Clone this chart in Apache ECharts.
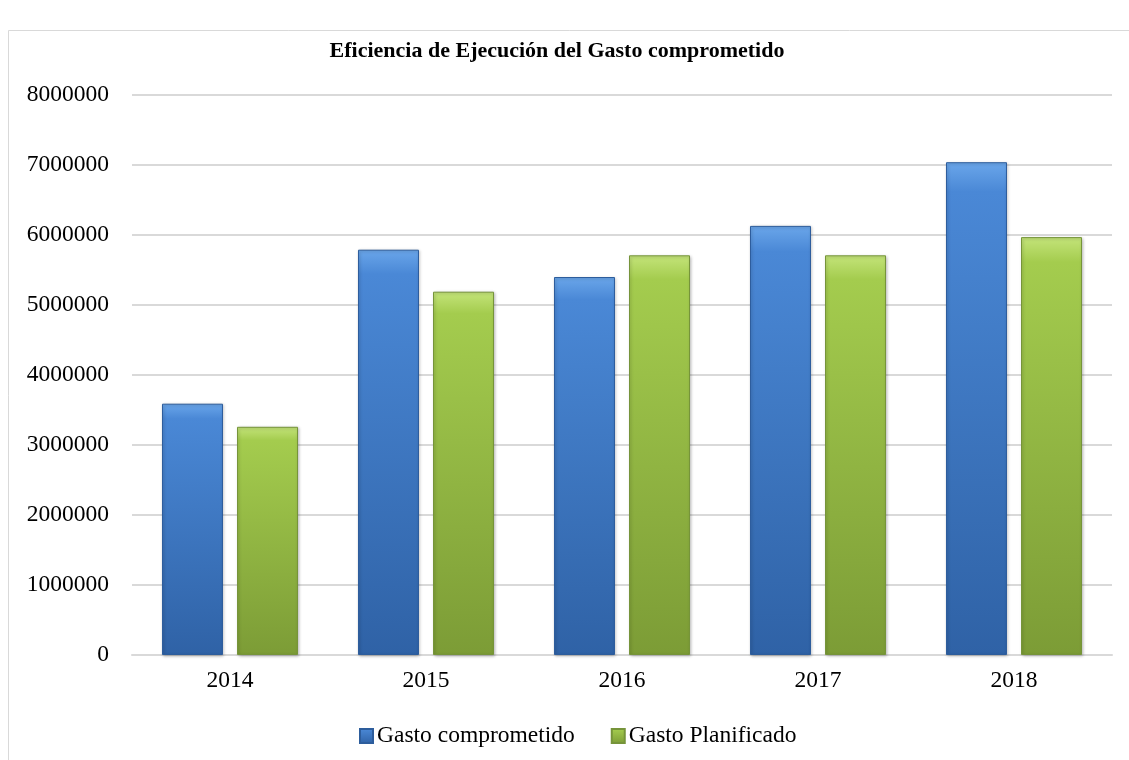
<!DOCTYPE html>
<html><head><meta charset="utf-8">
<script src="https://cdn.jsdelivr.net/npm/echarts@6/dist/echarts.min.js"></script>
<style>html,body{margin:0;padding:0;background:#fff}#c{width:1129px;height:760px}</style>
</head><body><div id="c"></div>
<script>
const categories = ['2014','2015','2016','2017','2018'];
const gastoComprometido = [3590000, 5790000, 5400000, 6130000, 7040000];
const gastoPlanificado = [3260000, 5190000, 5710000, 5710000, 5970000];
const yTicks = [0, 1000000, 2000000, 3000000, 4000000, 5000000, 6000000, 7000000, 8000000];
const seriesNames = ['Gasto comprometido', 'Gasto Planificado'];
const titleText = 'Eficiencia de Ejecución del Gasto comprometido';

const FONT = '"Liberation Serif", "DejaVu Serif", serif';
function grad(c1, c2, c3) {
  return new echarts.graphic.LinearGradient(0, 0, 0, 1, [
    {offset: 0, color: c1}, {offset: 0.06, color: c2}, {offset: 1, color: c3}
  ]);
}
const chart = echarts.init(document.getElementById('c'));
chart.setOption({
  backgroundColor: '#fff',
  animation: false,
  graphic: [{type: 'rect', shape: {x: 8.5, y: 30.5, width: 1140, height: 760}, style: {fill: 'none', stroke: '#d9d9d9', lineWidth: 1}, silent: true, z: -1}],
  title: {text: titleText, left: 552, top: 35, textAlign: 'center',
    textStyle: {fontFamily: FONT, fontSize: 22, fontWeight: 'bold', color: '#000'}},
  grid: {left: 132, right: 17, top: 95, bottom: 105, containLabel: false},
  legend: {data: seriesNames, bottom: 7, left: 354, itemWidth: 13, itemHeight: 14, itemGap: 36,
    icon: 'rect', textStyle: {fontFamily: FONT, fontSize: 23.5, color: '#000', padding: [0,0,0,-1]}},
  xAxis: {type: 'category', data: categories,
    axisLine: {lineStyle: {color: '#d9d9d9', width: 2}}, axisTick: {show: false},
    axisLabel: {fontFamily: FONT, fontSize: 23.5, color: '#000', margin: 14}},
  yAxis: {type: 'value', min: yTicks[0], max: yTicks[yTicks.length-1], interval: 1000000,
    axisLine: {show: false}, axisTick: {show: false},
    splitLine: {lineStyle: {color: '#d9d9d9', width: 2}},
    axisLabel: {fontFamily: FONT, fontSize: 23.5, color: '#000', margin: 23, formatter: v => String(v)}},
  series: [
    {name: seriesNames[0], type: 'bar', data: gastoComprometido, barWidth: 61, barGap: '23%',
      itemStyle: {color: grad('#6aa6ea', '#4a88d6', '#2f62a6'), borderColor: '#2d5d9c', borderWidth: 1,
        shadowColor: 'rgba(0,0,0,0.25)', shadowBlur: 3, shadowOffsetX: 1, shadowOffsetY: 1}},
    {name: seriesNames[1], type: 'bar', data: gastoPlanificado, barWidth: 61,
      itemStyle: {color: grad('#c4e47a', '#a4cc4e', '#7c9c36'), borderColor: '#76943a', borderWidth: 1,
        shadowColor: 'rgba(0,0,0,0.25)', shadowBlur: 3, shadowOffsetX: 1, shadowOffsetY: 1}}
  ]
});
</script></body></html>
